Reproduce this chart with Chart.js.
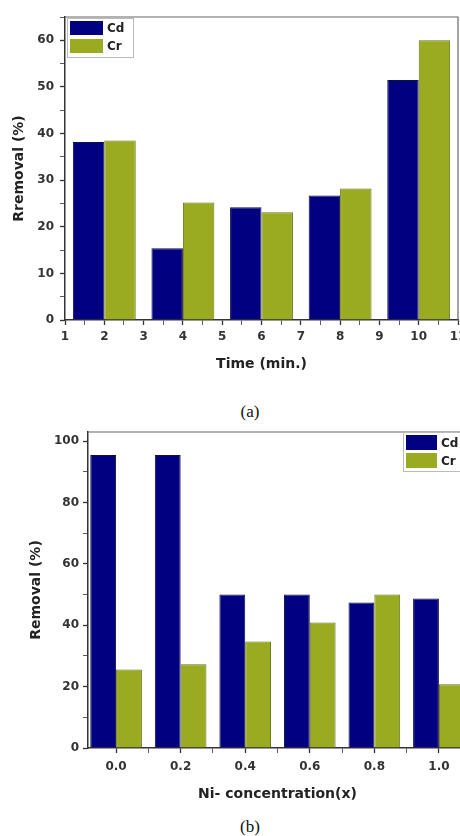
<!DOCTYPE html>
<html>
<head>
<meta charset="utf-8">
<script src="https://cdn.jsdelivr.net/npm/chart.js@4/dist/chart.umd.min.js"></script>
<style>
  body { margin: 0; width: 460px; height: 836px; overflow: hidden; background: #fff; position: relative; }
  canvas { position: absolute; left: 0; }
  .cap { position: absolute; left: 0; width: 500px; text-align: center; font-family: "Liberation Serif", "Times New Roman", serif; font-size: 17px; line-height: 17px; color: #111; }
</style>
</head>
<body>
<canvas id="chartA" width="460" height="390" style="top:0"></canvas>
<div class="cap" style="top:403px">(a)</div>
<canvas id="chartB" width="470" height="390" style="top:420px"></canvas>
<div class="cap" style="top:818px">(b)</div>
<script>
// panel (a): removal vs time
const timeLabels = [2, 4, 6, 8, 10];
const cdTime = [38.2, 15.4, 24.2, 26.7, 51.5];
const crTime = [38.5, 25.2, 23.1, 28.2, 60.0];
const timeTicks = [1, 2, 3, 4, 5, 6, 7, 8, 9, 10, 11];
const timeYTicks = [0, 10, 20, 30, 40, 50, 60];

// panel (b): removal vs Ni concentration
const niLabels = [0.0, 0.2, 0.4, 0.6, 0.8, 1.0];
const cdNi = [95.5, 95.5, 50.0, 50.0, 47.4, 48.7];
const crNi = [25.6, 27.3, 34.7, 40.9, 50.0, 20.8];
const niTicks = [0.0, 0.2, 0.4, 0.6, 0.8, 1.0];
const niYTicks = [0, 20, 40, 60, 80, 100];

const NAVY = "#000080";
const OLIVE = "#9AAB22";
const FONT = '"DejaVu Sans", "Liberation Sans", sans-serif';

function axisFont(size) {
  return { family: FONT, size: size, weight: "bold" };
}

function isMajor(list, v) {
  return list.some((t) => Math.abs(t - v) < 1e-6);
}

// box around the plot (top and right sides)
const framePlugin = {
  id: "frame",
  afterDatasetsDraw(chart) {
    const a = chart.chartArea;
    const ctx = chart.ctx;
    ctx.save();
    ctx.strokeStyle = "#666";
    ctx.lineWidth = 1.2;
    ctx.beginPath();
    ctx.moveTo(a.left, a.top);
    ctx.lineTo(a.right, a.top);
    ctx.lineTo(a.right, a.bottom);
    ctx.stroke();
    ctx.restore();
  },
};

// legend drawn inside the plot, like the Origin one
const boxLegend = {
  id: "boxLegend",
  afterDraw(chart, args, o) {
    const a = chart.chartArea;
    const ctx = chart.ctx;
    const x = o.fromRight ? a.right - o.dx : a.left + o.dx;
    const y = a.top + o.dy;
    ctx.save();
    ctx.fillStyle = "#fff";
    ctx.fillRect(x, y, o.w, o.h);
    ctx.strokeStyle = "#bbb";
    ctx.lineWidth = 1;
    ctx.strokeRect(x + 0.5, y + 0.5, o.w, o.h);
    ctx.font = "bold 12px " + FONT;
    ctx.textBaseline = "middle";
    chart.data.datasets.forEach((ds, i) => {
      const sy = y + o.pad + i * (o.sh + o.gap);
      ctx.fillStyle = ds.backgroundColor;
      ctx.fillRect(x + o.pad, sy, o.sw, o.sh);
      ctx.fillStyle = "#222";
      ctx.fillText(ds.label, x + o.pad + o.sw + 4, sy + o.sh / 2 + 1);
    });
    ctx.restore();
  },
};

function makeChart(id, cfg) {
  return new Chart(document.getElementById(id), {
    type: "bar",
    data: {
      labels: cfg.labels,
      datasets: [
        { label: "Cd", data: cfg.cd, backgroundColor: NAVY, borderColor: "#101040", borderWidth: 1, xAxisID: "x", yAxisID: "y" },
        { label: "Cr", data: cfg.cr, backgroundColor: OLIVE, borderColor: "#66741a", borderWidth: 1, xAxisID: "x", yAxisID: "y" },
      ],
    },
    options: {
      responsive: false,
      animation: false,
      layout: { padding: cfg.padding },
      datasets: { bar: { categoryPercentage: 0.8, barPercentage: 1 } },
      plugins: {
        legend: { display: false },
        tooltip: { enabled: false },
        boxLegend: cfg.legend,
      },
      scales: {
        // hidden axis that places the bars
        x: {
          type: "linear",
          display: false,
          offset: false,
          grid: { offset: false },
          min: cfg.xMin,
          max: cfg.xMax,
          ticks: { stepSize: cfg.groupStep, includeBounds: false },
        },
        // visible axis with labels and minor ticks
        xt: {
          type: "linear",
          axis: "x",
          position: "bottom",
          offset: false,
          min: cfg.xMin,
          max: cfg.xMax,
          afterFit: (s) => {
            s.height = cfg.xHeight;
            s.paddingLeft = 0;
            s.paddingRight = 0;
          },
          ticks: {
            stepSize: cfg.xMinor,
            includeBounds: false,
            autoSkip: false,
            maxRotation: 0,
            padding: cfg.xPad,
            color: "#333",
            font: axisFont(12),
            callback: (v) => (isMajor(cfg.xTicks, v) ? cfg.xFmt(v) : ""),
          },
          grid: {
            offset: false,
            drawOnChartArea: false,
            tickLength: 5,
            tickColor: "#333",
            tickWidth: (c) => (c.tick && isMajor(cfg.xTicks, c.tick.value) ? 1.3 : 0.8),
          },
          border: { color: "#333", width: 1.5 },
          title: { display: true, text: cfg.xTitle, color: "#222", font: axisFont(14), padding: { top: 0, bottom: cfg.xTitlePad } },
        },
        y: {
          min: 0,
          max: cfg.yMax,
          afterFit: (s) => { s.width = cfg.yWidth; },
          ticks: {
            stepSize: cfg.yMinor,
            includeBounds: false,
            autoSkip: false,
            padding: cfg.yPad,
            color: "#333",
            font: axisFont(12),
            callback: (v) => (isMajor(cfg.yTicks, v) ? String(v) : ""),
          },
          grid: {
            drawOnChartArea: false,
            tickLength: 5,
            tickColor: "#333",
            tickWidth: (c) => (c.tick && isMajor(cfg.yTicks, c.tick.value) ? 1.3 : 0.8),
          },
          border: { color: "#333", width: 1.5 },
          title: { display: true, text: cfg.yTitle, color: "#222", font: axisFont(14), padding: { top: cfg.yTitlePad, bottom: 0 } },
        },
      },
    },
    plugins: [framePlugin, boxLegend],
  });
}

makeChart("chartA", {
  labels: timeLabels,
  cd: cdTime,
  cr: crTime,
  padding: { top: 17, right: 2, left: 0, bottom: 0 },
  xMin: 1, xMax: 11, groupStep: 2, xMinor: 0.5,
  xTicks: timeTicks, xFmt: (v) => String(v),
  xHeight: 70, xPad: 5, xTitle: "Time (min.)", xTitlePad: 17,
  yMax: 65, yMinor: 5, yTicks: timeYTicks,
  yWidth: 65, yPad: 6, yTitle: "Rremoval (%)", yTitlePad: 11,
  legend: { fromRight: false, dx: 2, dy: 1, w: 66, h: 39, pad: 3, sw: 33, sh: 14, gap: 4 },
});

makeChart("chartB", {
  labels: niLabels,
  cd: cdNi,
  cr: crNi,
  padding: { top: 12, right: 3, left: 0, bottom: 0 },
  xMin: -0.087, xMax: 1.087, groupStep: 0.2, xMinor: 0.1,
  xTicks: niTicks, xFmt: (v) => v.toFixed(1),
  xHeight: 62, xPad: 7, xTitle: "Ni- concentration(x)", xTitlePad: 7,
  yMax: 103, yMinor: 10, yTicks: niYTicks,
  yWidth: 88, yPad: 4, yTitle: "Removal (%)", yTitlePad: 28,
  legend: { fromRight: true, dx: 64, dy: 0, w: 80, h: 39, pad: 3, sw: 31, sh: 15, gap: 3 },
});
</script>
</body>
</html>
